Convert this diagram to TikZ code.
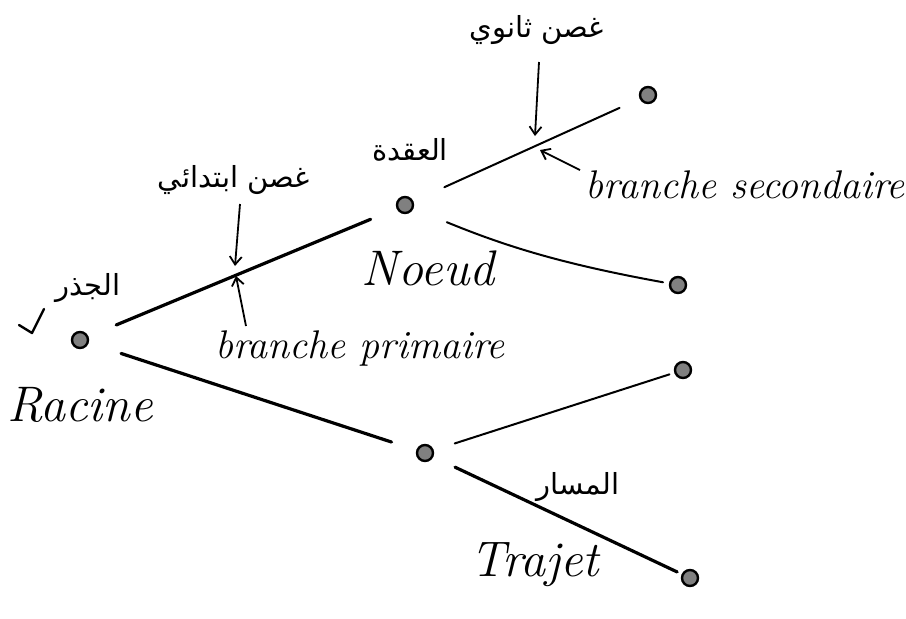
\documentclass[tikz,border=0pt]{standalone}
\usepackage{fontspec}
\TeXXeTstate=1
\newfontfamily\arabicfont[Script=Arabic]{DejaVu Sans}
\usetikzlibrary{arrows.meta}
\begin{document}
\begin{tikzpicture}[x=0.5pt,y=-0.5pt,
  vtx/.style={circle,draw=black,line width=1.2pt,fill=black!50,minimum size=8pt,inner sep=0pt},
  branch/.style={line width=1pt,line cap=round},
  thickbranch/.style={line width=1.6pt,line cap=round},
  annot/.style={line width=0.9pt,-{Straight Barb[length=4pt,width=6pt]}},
  lat/.style={font=\itshape\fontsize{20}{23}\selectfont,inner sep=1pt},
  big/.style={font=\itshape\fontsize{25}{28}\selectfont,inner sep=1pt},
  ar/.style={font=\arabicfont\fontsize{14.5}{17}\selectfont,inner sep=1pt}]
\useasboundingbox (0,0) rectangle (906,618);
% nodes
\node[vtx] (root) at (80,340) {};
\node[vtx] (A) at (405,205) {};
\node[vtx] (C) at (425,453) {};
\node[vtx] (L1) at (648,95) {};
\node[vtx] (L2) at (678,285) {};
\node[vtx] (L3) at (683,370) {};
\node[vtx] (L4) at (690,578) {};
% branches
\draw[thickbranch,shorten <=15pt,shorten >=14pt] (root) -- (A);
\draw[branch,shorten <=17pt,shorten >=11pt] (A) -- (L1);
\draw[branch,shorten <=18pt,shorten >=3pt] (A) to[bend right=6] (L2);
\draw[thickbranch,shorten <=17pt,shorten >=13pt] (root) -- (C);
\draw[branch,shorten <=11pt,shorten >=2.5pt] (C) -- (L3);
\draw[thickbranch,shorten <=12pt,shorten >=2.5pt] (C) -- (L4);
% labels
\node[ar] (gp) at (234,180) {\beginR غصن ابتدائي\endR};
\node[lat] (bp) at (360,348) {branche primaire};
\node[ar] (gs) at (537,30) {\beginR غصن ثانوي\endR};
\node[lat] (bs) at (745,185) {branche secondaire};
\node[ar] (aq) at (410,150) {\beginR العقدة\endR};
\node[big] (noeud) at (428,268) {Noeud};
\node[ar] (jd) at (88,288) {\beginR الجذر\endR};
\node[big] (racine) at (80,405) {Racine};
\node[ar] (ms) at (578,487) {\beginR المسار\endR};
\node[big] (trajet) at (535,565) {Trajet};
% annotation arrows
\coordinate (p1) at (235,266);
\coordinate (p2) at (236,276);
\coordinate (s1) at (535,136);
\coordinate (s2) at (540,150);
\coordinate (q1) at (240,204);
\coordinate (q2) at (246,326);
\coordinate (r1) at (539,62);
\coordinate (r2) at (580,170);
\draw[annot] (q1) -- (p1);
\draw[annot] (q2) -- (p2);
\draw[annot] (r1) -- (s1);
\draw[annot] (r2) -- (s2);
% check mark
\coordinate (c1) at (19,325);
\coordinate (c2) at (32,333);
\coordinate (c3) at (44,309);
\draw[line width=1.2pt,line cap=round,line join=round] (c1) -- (c2) -- (c3);
\end{tikzpicture}
\end{document}
